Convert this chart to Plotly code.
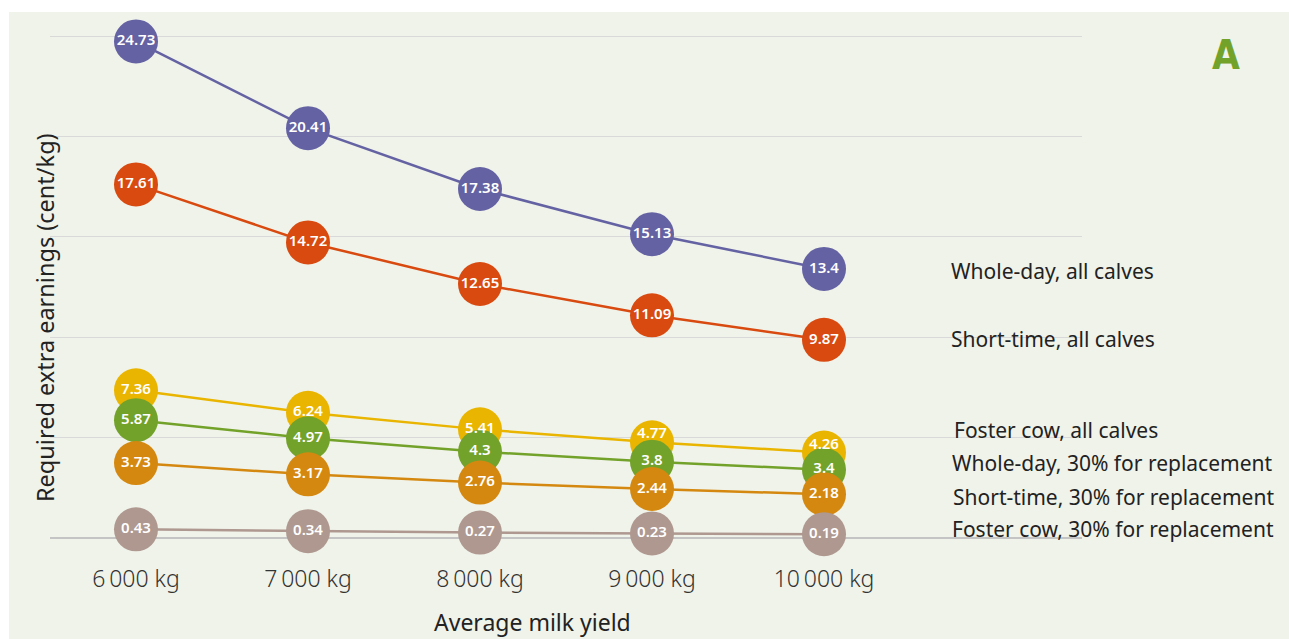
import plotly.graph_objects as go

categories = ["6\u2009000 kg", "7\u2009000 kg", "8\u2009000 kg", "9\u2009000 kg", "10\u2009000 kg"]
series_names = [
    "Whole-day, all calves",
    "Short-time, all calves",
    "Foster cow, all calves",
    "Whole-day, 30% for replacement",
    "Short-time, 30% for replacement",
    "Foster cow, 30% for replacement",
]
whole_day_all = [24.73, 20.41, 17.38, 15.13, 13.4]
short_time_all = [17.61, 14.72, 12.65, 11.09, 9.87]
foster_all = [7.36, 6.24, 5.41, 4.77, 4.26]
whole_day_30 = [5.87, 4.97, 4.3, 3.8, 3.4]
short_time_30 = [3.73, 3.17, 2.76, 2.44, 2.18]
foster_30 = [0.43, 0.34, 0.27, 0.23, 0.19]
series_values = [whole_day_all, short_time_all, foster_all, whole_day_30, short_time_30, foster_30]
colors = ["#6462a3", "#d84a10", "#e9b500", "#73a22a", "#d5880f", "#ae9890"]
label_y_px = [271, 339, 430, 463, 497, 529]
label_x_px = [949, 949, 952, 950, 951, 950]

W, H = 1289, 639
Y_MAX = 25.3
L, R, B = 50, 1082, 538
T = B - (B - 36) * Y_MAX / 25.0


def px2paper_x(px):
    return (px - L) / (R - L)


def px2paper_y(py):
    return (B - py) / (B - T)


fig = go.Figure()
xs = list(range(len(categories)))
for name, vals, col in zip(series_names, series_values, colors):
    fig.add_trace(go.Scatter(
        x=xs, y=vals, name=name,
        mode="lines+markers",
        line=dict(color=col, width=2.5),
        marker=dict(color=col, size=44, line=dict(width=0)),
        cliponaxis=False,
        showlegend=False,
        hoverinfo="skip",
    ))
for i, (name, vals) in enumerate(zip(series_names, series_values)):
    if i == 2:
        pos = ["middle center", "middle center", "middle center", "top center", "top center"]
    else:
        pos = "middle center"
    fig.add_trace(go.Scatter(
        x=xs, y=vals, name=name,
        mode="text",
        text=[f"{v:g}" for v in vals],
        textposition=pos,
        textfont=dict(color="white", size=15, family="Noto Sans", weight=600),
        cliponaxis=False,
        showlegend=False,
    ))

annotations = []
for name, ly, lx in zip(series_names, label_y_px, label_x_px):
    annotations.append(dict(
        x=px2paper_x(lx), y=px2paper_y(ly), xref="paper", yref="paper",
        text=name, showarrow=False, xanchor="left", yanchor="middle",
        font=dict(family="Noto Sans", size=21, color="#222222"),
    ))
annotations.append(dict(
    x=px2paper_x(1226), y=px2paper_y(55), xref="paper", yref="paper",
    text="<b>A</b>", showarrow=False, xanchor="center", yanchor="middle",
    font=dict(family="DejaVu Sans Condensed", size=40, color="#73a22a"),
))
annotations.append(dict(
    x=px2paper_x(45), y=px2paper_y(318), xref="paper", yref="paper",
    text="Required extra earnings (cent/kg)", showarrow=False, textangle=-90,
    xanchor="center", yanchor="middle",
    font=dict(family="Noto Sans", size=23.5, color="#222222"),
))
annotations.append(dict(
    x=px2paper_x(532), y=px2paper_y(622), xref="paper", yref="paper",
    text="Average milk yield", showarrow=False, xanchor="center", yanchor="middle",
    font=dict(family="Noto Sans", size=23, color="#222222"),
))

fig.update_layout(
    width=W, height=H,
    margin=dict(l=L, r=W - R, t=T, b=H - B),
    paper_bgcolor="white",
    plot_bgcolor="rgba(0,0,0,0)",
    annotations=annotations,
    shapes=[dict(
        type="rect", xref="paper", yref="paper", layer="below",
        x0=px2paper_x(9), x1=px2paper_x(1295), y0=px2paper_y(645), y1=px2paper_y(12),
        fillcolor="#f0f3ea", line=dict(width=0),
    )],
    xaxis=dict(
        range=[-0.5, 5.5], tickmode="array", tickvals=xs,
        ticktext=categories, showgrid=False, zeroline=False, showline=False,
        ticks="", ticklabelstandoff=25,
        tickfont=dict(family="Noto Sans", size=23, color="#333333", weight=300),
    ),
    yaxis=dict(
        range=[0, Y_MAX], dtick=5, tick0=0, showticklabels=False,
        showgrid=True, gridcolor="#d9d9d9", gridwidth=1,
        zeroline=True, zerolinecolor="#c4c4c4", zerolinewidth=2, showline=False,
    ),
)

fig.write_html(
    "out.html",
    config={"displayModeBar": False},
    post_script="document.body.style.margin='0';document.body.style.overflow='hidden';",
)
